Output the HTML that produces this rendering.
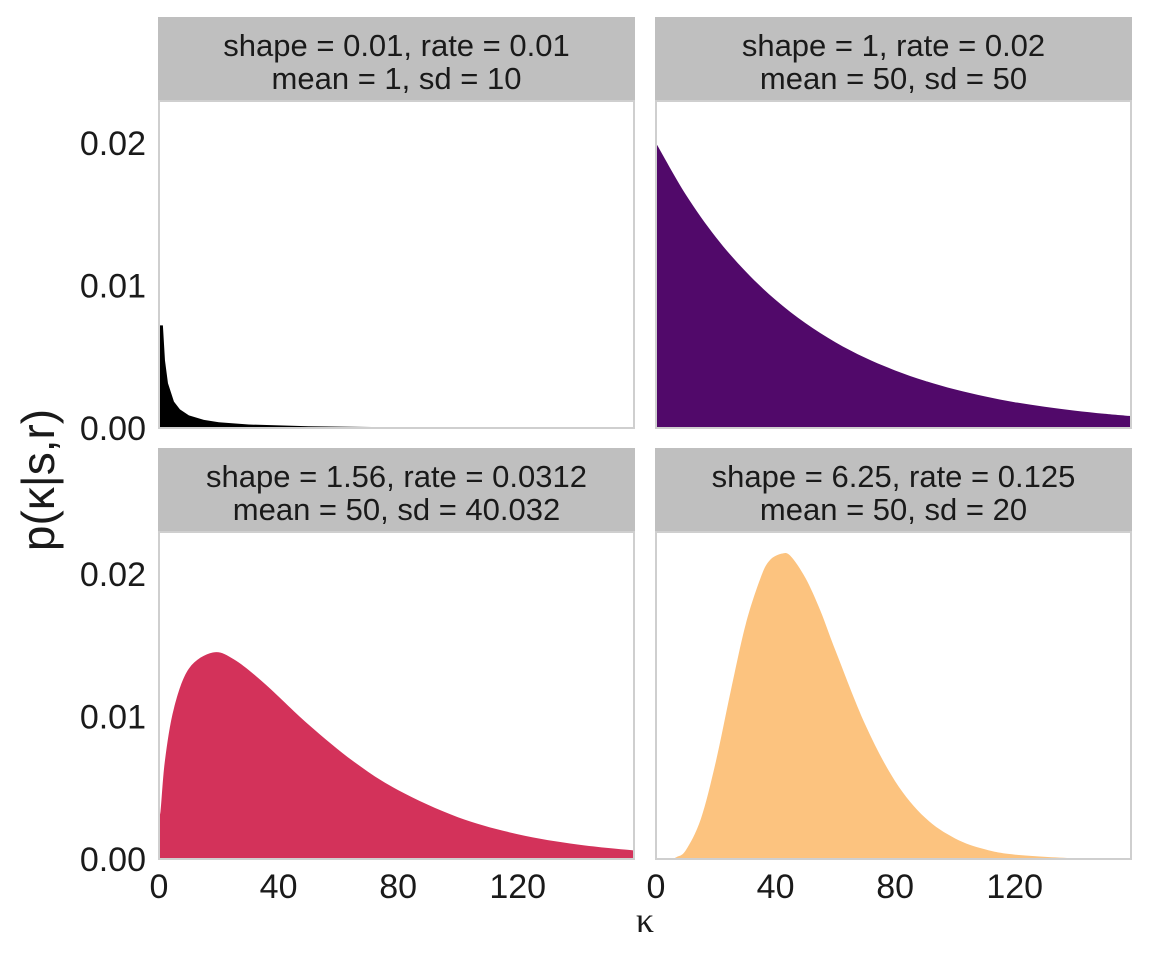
<!DOCTYPE html>
<html><head><meta charset="utf-8"><style>
html,body{margin:0;padding:0;background:#fff}
svg{display:block;font-family:"Liberation Sans",Arial,sans-serif}
</style></head><body>
<svg id="chart" width="1152" height="960" viewBox="0 0 1152 960"></svg>
<script>
const stripLine1 = ["shape = 0.01, rate = 0.01","shape = 1, rate = 0.02","shape = 1.56, rate = 0.0312","shape = 6.25, rate = 0.125"];
const stripLine2 = ["mean = 1, sd = 10","mean = 50, sd = 50","mean = 50, sd = 40.032","mean = 50, sd = 20"];
const fillColors = ["#000000","#51096a","#d3325a","#fcc37f"];
const yTicks = [0, 0.01, 0.02];
const yTickLabels = ["0.00","0.01","0.02"];
const xTicks = [0, 40, 80, 120];
const xTickLabels = ["0","40","80","120"];
const x1 = [0,1.3,2,3,5,7,10,15,20,30,50,75,100,130,159];
const y1 = [0.0072,0.0072,0.00474,0.00314,0.00185,0.00131,0.00089,0.00057,0.000404,0.000245,0.000121,0.000063,0.000037,0.000021,0.000013];
const x2 = [0,10,20,30,40,50,60,70,80,90,100,110,120,130,140,150,159];
const y2 = [0.02,0.01637,0.0134,0.01098,0.00899,0.00736,0.00602,0.00493,0.00404,0.00331,0.00271,0.00222,0.00181,0.00149,0.00122,0.000996,0.00083];
const x3 = [0,0.5,2,5,10,18,25,35,50,65,80,100,120,140,159];
const y3 = [0.0035,0.00333,0.00693,0.01058,0.01336,0.01449,0.01402,0.01237,0.00944,0.00686,0.00483,0.00293,0.00174,0.00102,0.0006];
const x4 = [0,5,7,10,15,20,25,30,35,38,42,45,50,55,60,70,80,90,100,110,120,140,159];
const y4 = [0,0.0000307,0.00015,0.000625,0.00281,0.00682,0.01179,0.01647,0.01974,0.02095,0.02143,0.02127,0.01972,0.01742,0.01465,0.00943,0.00546,0.0029,0.00145,0.00068,0.00031,0.000057,0.00001];
const seriesX = [x1,x2,x3,x4], seriesY = [y1,y2,y3,y4];

const NS="http://www.w3.org/2000/svg";
const svg=document.getElementById('chart');
function mk(tag,attrs,parent){const e=document.createElementNS(NS,tag);for(const k in attrs)e.setAttribute(k,attrs[k]);(parent||svg).appendChild(e);return e;}
function smoothPath(pts){
  let d='';
  for(let j=0;j<pts.length-1;j++){
    const p0=pts[Math.max(0,j-1)],p1=pts[j],p2=pts[j+1],p3=pts[Math.min(pts.length-1,j+2)];
    const c1x=p1[0]+(p2[0]-p0[0])/6,c1y=p1[1]+(p2[1]-p0[1])/6;
    const c2x=p2[0]-(p3[0]-p1[0])/6,c2y=p2[1]-(p3[1]-p1[1])/6;
    d+=' C'+c1x.toFixed(2)+','+c1y.toFixed(2)+' '+c2x.toFixed(2)+','+c2y.toFixed(2)+' '+p2[0].toFixed(2)+','+p2[1].toFixed(2);
  }
  return d;
}
const panels=[{l:159,t:101},{l:656,t:101},{l:159,t:532},{l:656,t:532}];
const PW=475, PH=327, XMAX=158.9, YMAX=0.02295;
panels.forEach((p,i)=>{
  const sx=v=>p.l+v/XMAX*PW;
  const sy=v=>p.t+PH-v/YMAX*PH;
  const strip=mk('rect',{x:p.l-1,y:p.t-84,width:PW+2,height:84,fill:'#bfbfbf'});
  
  
  const t1=mk('text',{x:p.l+PW/2,y:p.t-45,'text-anchor':'middle','font-size':31,fill:'#1a1a1a'});t1.textContent=stripLine1[i];
  
  
  const t2=mk('text',{x:p.l+PW/2,y:p.t-12,'text-anchor':'middle','font-size':31,fill:'#1a1a1a'});t2.textContent=stripLine2[i];
  
  
  const xs=seriesX[i], ys=seriesY[i];
  const pts=xs.map((x,j)=>[sx(x),sy(ys[j])]);
  let d='M'+sx(xs[0])+','+sy(0)+' L'+pts[0][0]+','+pts[0][1];
  d+= i===0 ? pts.slice(1).map(q=>' L'+q[0].toFixed(2)+','+q[1].toFixed(2)).join('') : smoothPath(pts);
  d+=' L'+sx(xs[xs.length-1])+','+sy(0)+' Z';
  const area=mk('path',{d:d,fill:fillColors[i]});
  
  
  const border=mk('rect',{x:p.l,y:p.t,width:PW,height:PH,fill:'none',stroke:'#cfcfcf','stroke-width':2});
  
  
  if(i%2===0){
    yTicks.forEach((v,k)=>{
      const tl=mk('text',{x:146,y:sy(v)+12,'text-anchor':'end','font-size':34,fill:'#1a1a1a'});tl.textContent=yTickLabels[k];
      
      
    });
  }
  if(i>=2){
    xTicks.forEach((v,k)=>{
      const tl=mk('text',{x:sx(v),y:898,'text-anchor':'middle','font-size':34,fill:'#1a1a1a'});tl.textContent=xTickLabels[k];
      
      
    });
  }
});
const yt=mk('text',{x:0,y:0,transform:'translate(54,480) rotate(-90)','text-anchor':'middle','font-size':46,fill:'#1a1a1a'});yt.textContent='p(κ|s,r)';


const xt=mk('text',{x:645,y:932,'text-anchor':'middle','font-size':36,fill:'#1a1a1a','font-family':'Liberation Serif,serif'});xt.textContent='κ';


</script>
</body></html>
